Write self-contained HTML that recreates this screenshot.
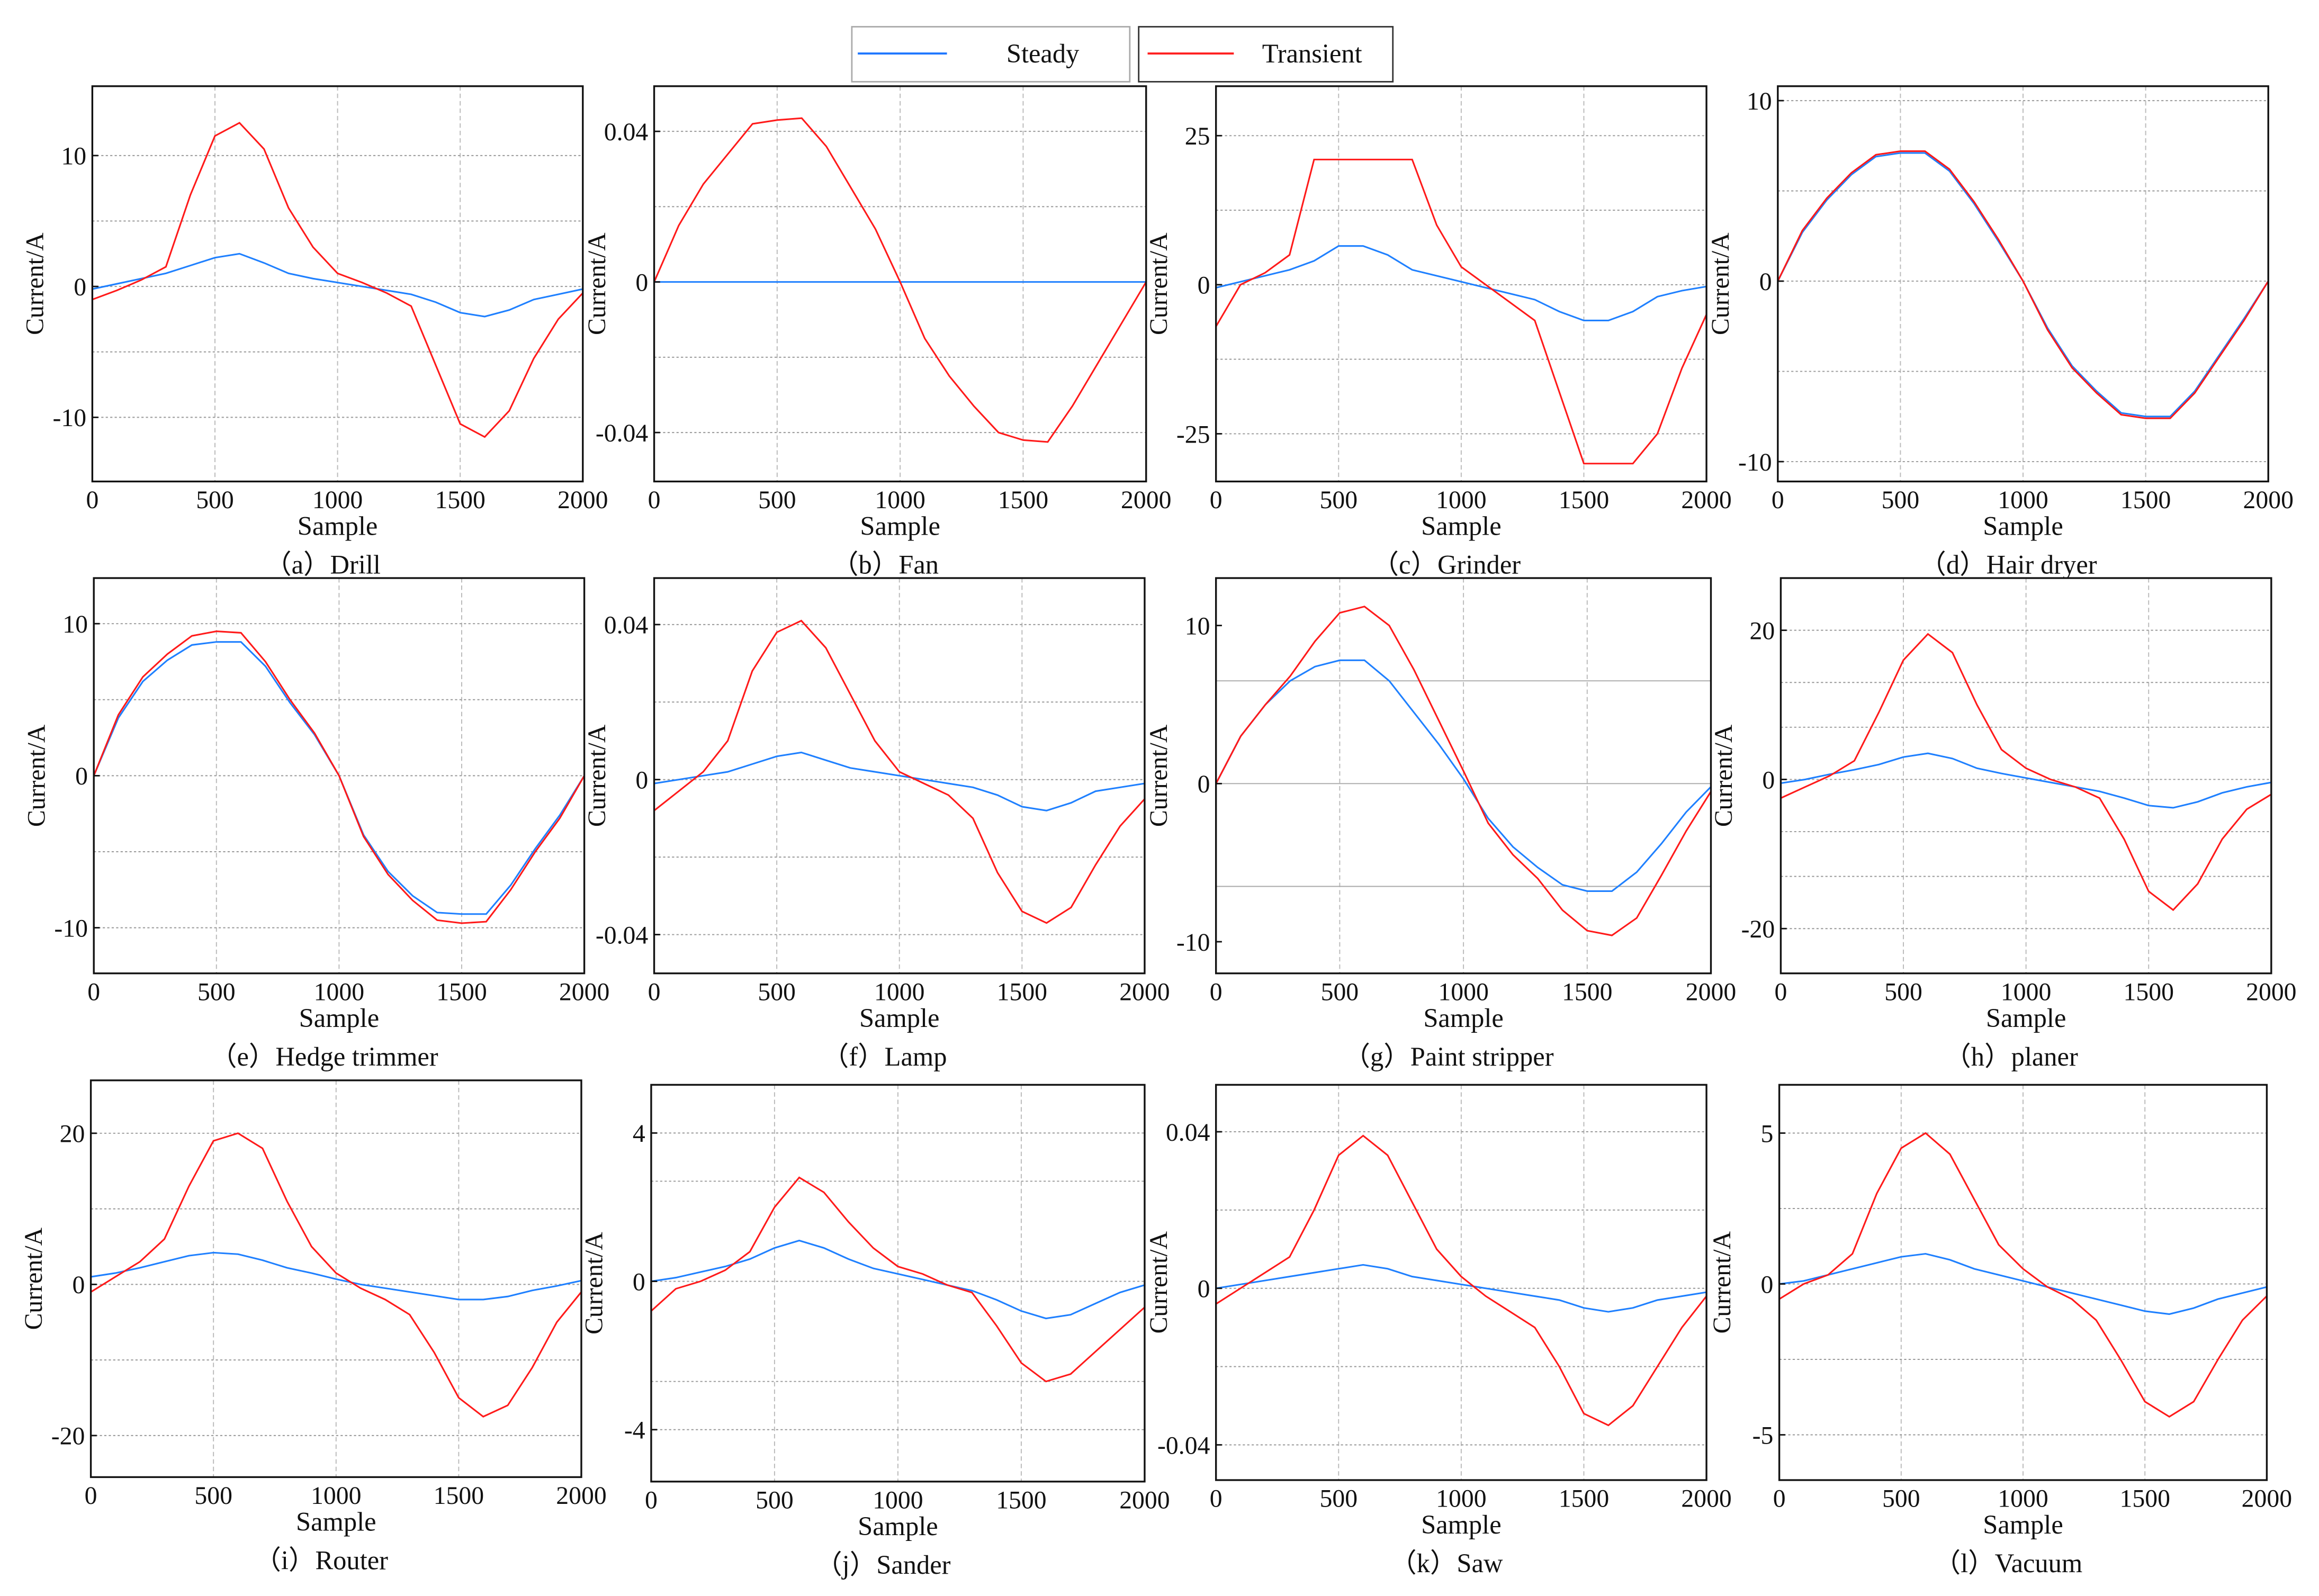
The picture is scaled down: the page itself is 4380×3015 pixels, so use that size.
<!DOCTYPE html>
<html><head><meta charset="utf-8"><style>
html,body{margin:0;padding:0;background:#fff;}
svg{display:block;}
text{font-family:"Liberation Serif",serif;fill:#111;}
</style></head><body>
<svg id="fig" width="4380" height="3015" viewBox="0 0 1560 1074" xmlns="http://www.w3.org/2000/svg">
<g>
<rect x="573" y="18" width="187" height="37" fill="#fff" stroke="#aaa" stroke-width="1"/>
<line x1="577" y1="36" x2="637" y2="36" stroke="#1f77ff" stroke-width="1.4"/>
<text x="677" y="42" font-size="18">Steady</text>
<rect x="766" y="18" width="171" height="37" fill="#fff" stroke="#333" stroke-width="1"/>
<line x1="772" y1="36" x2="830" y2="36" stroke="#ff2020" stroke-width="1.4"/>
<text x="849" y="42" font-size="18">Transient</text>
</g>
</svg>
<script>
const xTicks=[0,500,1000,1500,2000];
const xSamples=[0,100,200,300,400,500,600,700,800,900,1000,1100,1200,1300,1400,1500,1600,1700,1800,1900,2000];
const drillSteady=[-0.2,0.2,0.6,1,1.6,2.2,2.5,1.8,1,0.6,0.3,0,-0.3,-0.6,-1.2,-2,-2.3,-1.8,-1,-0.6,-0.2];
const drillTrans=[-1,-0.3,0.5,1.5,7,11.5,12.5,10.5,6,3,1,0.3,-0.5,-1.5,-6,-10.5,-11.5,-9.5,-5.5,-2.5,-0.5];
const fanSteady=[0,0,0,0,0,0,0,0,0,0,0,0,0,0,0,0,0,0,0,0,0];
const fanTrans=[0,0.015,0.026,0.034,0.042,0.043,0.0435,0.036,0.025,0.014,0,-0.015,-0.025,-0.033,-0.04,-0.042,-0.0425,-0.033,-0.022,-0.011,0];
const grinderSteady=[-0.5,0.5,1.5,2.5,4,6.5,6.5,5,2.5,1.5,0.5,-0.5,-1.5,-2.5,-4.5,-6,-6,-4.5,-2,-1,-0.3];
const grinderTrans=[-7,0,2,5,21,21,21,21,21,10,3,0,-3,-6,-18,-30,-30,-30,-25,-14,-5];
const hairSteady=[0,2.7,4.5,5.9,6.9,7.1,7.1,6.1,4.3,2.2,0,-2.6,-4.7,-6.1,-7.3,-7.5,-7.5,-6.1,-4.1,-2.1,0];
const hairTrans=[0,2.8,4.6,6,7,7.2,7.2,6.2,4.4,2.3,0,-2.7,-4.8,-6.2,-7.4,-7.6,-7.6,-6.2,-4.2,-2.2,0];
const hedgeSteady=[0,3.8,6.2,7.6,8.6,8.8,8.8,7.2,4.8,2.7,0,-3.9,-6.3,-7.9,-9,-9.1,-9.1,-7.2,-4.8,-2.6,0];
const hedgeTrans=[0,4,6.5,8,9.2,9.5,9.4,7.5,5,2.8,0,-4,-6.5,-8.2,-9.5,-9.7,-9.6,-7.5,-5,-2.8,0];
const lampSteady=[-0.001,0,0.001,0.002,0.004,0.006,0.007,0.005,0.003,0.002,0.001,0,-0.001,-0.002,-0.004,-0.007,-0.008,-0.006,-0.003,-0.002,-0.001];
const lampTrans=[-0.008,-0.003,0.002,0.01,0.028,0.038,0.041,0.034,0.022,0.01,0.002,-0.001,-0.004,-0.01,-0.024,-0.034,-0.037,-0.033,-0.022,-0.012,-0.005];
const paintSteady=[0,3,5,6.5,7.4,7.8,7.8,6.5,4.5,2.5,0.3,-2.2,-4,-5.3,-6.4,-6.8,-6.8,-5.6,-3.8,-1.8,-0.2];
const paintTrans=[0,3,5,6.8,9,10.8,11.2,10,7.2,4,0.8,-2.5,-4.5,-6,-8,-9.3,-9.6,-8.5,-5.8,-3,-0.5];
const planerSteady=[-0.5,0,0.7,1.3,2,3,3.5,2.8,1.5,0.8,0.2,-0.4,-1,-1.6,-2.5,-3.5,-3.8,-3,-1.8,-1,-0.4];
const planerTrans=[-2.5,-1,0.5,2.5,9,16,19.5,17,10,4,1.5,0,-1,-2.5,-8,-15,-17.5,-14,-8,-4,-2];
const routerSteady=[1,1.5,2.2,3,3.8,4.2,4,3.2,2.2,1.5,0.7,0,-0.5,-1,-1.5,-2,-2,-1.6,-0.8,-0.2,0.5];
const routerTrans=[-1,1,3,6,13,19,20,18,11,5,1.5,-0.5,-2,-4,-9,-15,-17.5,-16,-11,-5,-1];
const sanderSteady=[0,0.1,0.25,0.4,0.6,0.9,1.1,0.9,0.6,0.35,0.2,0.05,-0.1,-0.25,-0.5,-0.8,-1,-0.9,-0.6,-0.3,-0.1];
const sanderTrans=[-0.8,-0.2,0,0.3,0.8,2,2.8,2.4,1.6,0.9,0.4,0.2,-0.1,-0.3,-1.2,-2.2,-2.7,-2.5,-1.9,-1.3,-0.7];
const sawSteady=[0,0.001,0.002,0.003,0.004,0.005,0.006,0.005,0.003,0.002,0.001,0,-0.001,-0.002,-0.003,-0.005,-0.006,-0.005,-0.003,-0.002,-0.001];
const sawTrans=[-0.004,0,0.004,0.008,0.02,0.034,0.039,0.034,0.022,0.01,0.003,-0.002,-0.006,-0.01,-0.02,-0.032,-0.035,-0.03,-0.02,-0.01,-0.002];
const vacuumSteady=[0,0.1,0.3,0.5,0.7,0.9,1,0.8,0.5,0.3,0.1,-0.1,-0.3,-0.5,-0.7,-0.9,-1,-0.8,-0.5,-0.3,-0.1];
const vacuumTrans=[-0.5,0,0.3,1,3,4.5,5,4.3,2.8,1.3,0.5,-0.1,-0.5,-1.2,-2.5,-3.9,-4.4,-3.9,-2.5,-1.2,-0.4];

const panels=[
{n:'drill',cap:'（a）Drill',x:62,y:58,w:330,h:266,ymin:-14.9,ymax:15.3,t:[-10,0,10],tl:['-10','0','10'],g:[-10,-5,0,5,10],s:drillSteady,r:drillTrans},
{n:'fan',cap:'（b）Fan',x:440,y:58,w:331,h:266,ymin:-0.053,ymax:0.052,t:[-0.04,0,0.04],tl:['-0.04','0','0.04'],g:[-0.04,-0.02,0,0.02,0.04],s:fanSteady,r:fanTrans},
{n:'grinder',cap:'（c）Grinder',x:818,y:58,w:330,h:266,ymin:-33,ymax:33.3,t:[-25,0,25],tl:['-25','0','25'],g:[-25,-12.5,0,12.5,25],s:grinderSteady,r:grinderTrans},
{n:'hair-dryer',cap:'（d）Hair dryer',x:1196,y:58,w:330,h:266,ymin:-11.1,ymax:10.8,t:[-10,0,10],tl:['-10','0','10'],g:[-10,-5,0,5,10],s:hairSteady,r:hairTrans},
{n:'hedge-trimmer',cap:'（e）Hedge trimmer',x:63,y:389,w:330,h:266,ymin:-13,ymax:13,t:[-10,0,10],tl:['-10','0','10'],g:[-10,-5,0,5,10],s:hedgeSteady,r:hedgeTrans},
{n:'lamp',cap:'（f）Lamp',x:440,y:389,w:330,h:266,ymin:-0.05,ymax:0.052,t:[-0.04,0,0.04],tl:['-0.04','0','0.04'],g:[-0.04,-0.02,0,0.02,0.04],s:lampSteady,r:lampTrans},
{n:'paint-stripper',cap:'（g）Paint stripper',x:818,y:389,w:333,h:266,ymin:-12,ymax:13,t:[-10,0,10],tl:['-10','0','10'],g:[-6.5,0,6.5],solid:1,s:paintSteady,r:paintTrans},
{n:'planer',cap:'（h）planer',x:1198,y:389,w:330,h:266,ymin:-26,ymax:27,t:[-20,0,20],tl:['-20','0','20'],g:[-20,-13,-7,0,7,13,20],s:planerSteady,r:planerTrans},
{n:'router',cap:'（i）Router',x:61,y:727,w:330,h:267,ymin:-25.5,ymax:27,t:[-20,0,20],tl:['-20','0','20'],g:[-20,-10,0,10,20],s:routerSteady,r:routerTrans},
{n:'sander',cap:'（j）Sander',x:438,y:730,w:332,h:267,ymin:-5.4,ymax:5.3,t:[-4,0,4],tl:['-4','0','4'],g:[-4,-2.7,0,2.7,4],s:sanderSteady,r:sanderTrans},
{n:'saw',cap:'（k）Saw',x:818,y:730,w:330,h:266,ymin:-0.049,ymax:0.052,t:[-0.04,0,0.04],tl:['-0.04','0','0.04'],g:[-0.04,-0.02,0,0.02,0.04],s:sawSteady,r:sawTrans},
{n:'vacuum',cap:'（l）Vacuum',x:1197,y:730,w:328,h:266,ymin:-6.5,ymax:6.6,t:[-5,0,5],tl:['-5','0','5'],g:[-5,-2.5,0,2.5,5],s:vacuumSteady,r:vacuumTrans}
];
const NS='http://www.w3.org/2000/svg';
const svg=document.getElementById('fig');
function mk(tag,attrs,parent){const e=document.createElementNS(NS,tag);for(const k in attrs)e.setAttribute(k,attrs[k]);parent.appendChild(e);return e;}
panels.forEach(p=>{
  const xs=v=>p.x+v/2000*p.w;
  const ys=v=>p.y+(p.ymax-v)/(p.ymax-p.ymin)*p.h;
  const g=mk('g',{},svg);
  
  
  mk('rect',{x:p.x,y:p.y,width:p.w,height:p.h,fill:'#fff'},g);
  xTicks.slice(1,4).forEach(v=>{
    const l=mk('line',{x1:xs(v),x2:xs(v),y1:p.y,y2:p.y+p.h,stroke:'#bbb','stroke-width':0.7,'stroke-dasharray':'3,2'},g);
    
    
  });
  p.g.forEach(v=>{
    const l=mk('line',{x1:p.x,x2:p.x+p.w,y1:ys(v),y2:ys(v),stroke:p.solid?'#aaa':'#999','stroke-width':0.7,'stroke-dasharray':p.solid?'':'1.5,1.5'},g);
    
    
  });
  const pts=a=>a.map((v,i)=>xs(xSamples[i]).toFixed(2)+','+ys(v).toFixed(2)).join(' ');
  const sl=mk('polyline',{points:pts(p.s),fill:'none',stroke:'#1f80ff','stroke-width':1.1},g);
  
  
  const tl=mk('polyline',{points:pts(p.r),fill:'none',stroke:'#ff1a1a','stroke-width':1.1},g);
  
  
  const fr=mk('rect',{x:p.x,y:p.y,width:p.w,height:p.h,fill:'none',stroke:'#111','stroke-width':1.2},g);
  
  
  xTicks.forEach(v=>{
    const t=mk('text',{x:xs(v),y:p.y+p.h+18,'font-size':17,'text-anchor':'middle'},g);
    t.textContent=String(v);
    
    
  });
  p.t.forEach((v,i)=>{
    const t=mk('text',{x:p.x-4,y:ys(v)+6,'font-size':17,'text-anchor':'end'},g);
    t.textContent=p.tl[i];
    
    
    mk('line',{x1:p.x,x2:p.x+4,y1:ys(v),y2:ys(v),stroke:'#111','stroke-width':1},g);
  });
  const xt=mk('text',{x:p.x+p.w/2,y:p.y+p.h+36,'font-size':18,'text-anchor':'middle'},g);
  xt.textContent='Sample';
  
  
  const cy=p.y+p.h/2, cx=p.x-33;
  const yt=mk('text',{x:cx,y:cy,'font-size':17,'text-anchor':'middle',transform:'rotate(-90 '+cx+' '+cy+')'},g);
  yt.textContent='Current/A';
  
  
  const cp=mk('text',{x:p.x+p.w/2-10,y:p.y+p.h+62,'font-size':18,'text-anchor':'middle'},g);
  cp.textContent=p.cap;
  
  
});
</script>
</body></html>
